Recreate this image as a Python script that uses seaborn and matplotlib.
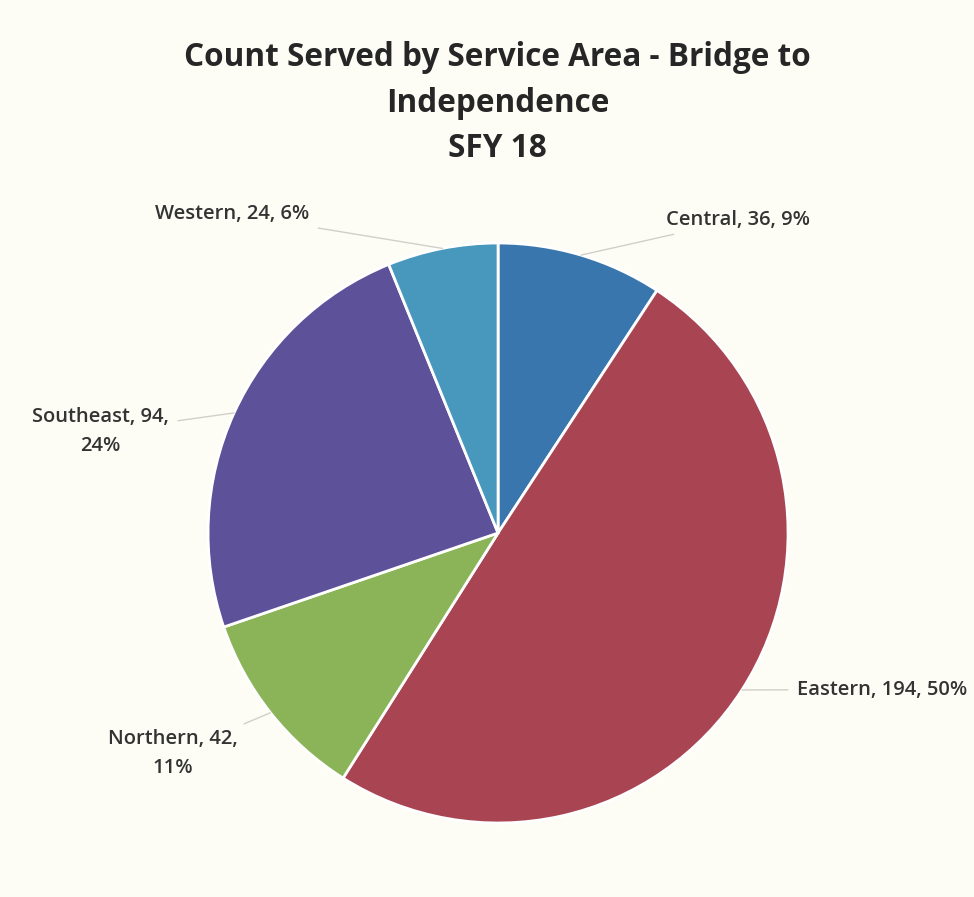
import matplotlib
matplotlib.use("Agg")
import matplotlib.pyplot as plt
import seaborn as sns
import numpy as np

# Data
areas = ['Central', 'Eastern', 'Northern', 'Southeast', 'Western']
counts = [36, 194, 42, 94, 24]
colors = ['#3a76ae', '#a94553', '#8bb458', '#5d519a', '#4898be']

sns.set_theme(style="white")
plt.rcParams['font.family'] = ['Open Sans', 'DejaVu Sans']

fig = plt.figure(figsize=(9.74, 8.97), dpi=100, facecolor='#fdfdf6')
ax = fig.add_axes([0.2136, 0.0825, 0.5955, 0.6466])
ax.set_facecolor('#fdfdf6')

wedges, _ = ax.pie(counts, colors=sns.color_palette(colors), startangle=90, counterclock=False,
                   radius=1, wedgeprops=dict(edgecolor='white', linewidth=2))
ax.set_xlim(-1, 1)
ax.set_ylim(-1, 1)
ax.set_aspect('equal')
ax.axis('off')

total = sum(counts)
labels = [f"{a}, {c}, {round(c / total * 100):.0f}%" for a, c in zip(areas, counts)]
labels[2] = f"Northern, 42,\n{round(42 / total * 100):.0f}%"
labels[3] = f"Southeast, 94,\n{round(94 / total * 100):.0f}%"

# label positions (in pie radius units) and alignment
label_pos = [(0.58, 1.08, 'left'), (1.03, -0.54, 'left'), (-1.12, -0.76, 'center'),
             (-1.37, 0.35, 'center'), (-0.65, 1.10, 'right')]

for w, lab, (lx, ly, ha) in zip(wedges, labels, label_pos):
    ang = np.deg2rad((w.theta1 + w.theta2) / 2)
    px, py = np.cos(ang), np.sin(ang)
    ax.annotate(lab, xy=(px, py), xytext=(lx, ly), ha=ha, va='center',
                fontsize=14.5, fontweight='semibold', color='#333333',
                linespacing=1.55, annotation_clip=False,
                arrowprops=dict(arrowstyle='-', color='#d0d0c8', lw=1, shrinkA=4, shrinkB=0))

fig.text(0.511, 0.885, 'Count Served by Service Area - Bridge to\nIndependence\nSFY 18',
         ha='center', va='center', fontsize=22.7, fontweight='bold', color='#262626',
         linespacing=1.5)

fig.savefig('out.png', dpi=100, facecolor=fig.get_facecolor())
